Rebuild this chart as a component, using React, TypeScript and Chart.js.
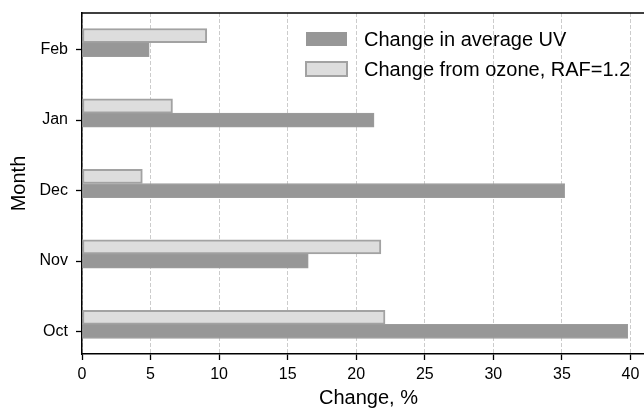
import React, { useEffect, useRef } from "react";
import { Chart, registerables } from "chart.js";

Chart.register(...registerables);

// ---- data ----
const months = ["Oct", "Nov", "Dec", "Jan", "Feb"];
const uvChange = [39.8, 16.5, 35.2, 21.3, 4.9];
const ozoneChange = [22.1, 21.8, 4.4, 6.6, 9.1];
const seriesLabels = ["Change in average UV", "Change from ozone, RAF=1.2"];
const xTickStep = 5;
const xAxisTitle = "Change, %";
const yAxisTitle = "Month";

// ---- style ----
const FONT = "'Liberation Sans', Arial, Helvetica, sans-serif";
const DARK = "#979797";
const LIGHT = "#dddddd";
const EDGE = "#a2a2a2";
const BAR_SHIFT = 0.2; // light bar sits one bar-height above the dark bar

export default function App() {
  const ref = useRef<HTMLCanvasElement>(null);

  useEffect(() => {
    const canvas = ref.current;
    if (!canvas) return;

    const legendPlugin = {
      id: "innerLegend",
      afterDatasetsDraw(chart: any) {
        const ctx = chart.ctx;
        ctx.save();
        chart.data.datasets.forEach((ds: any, i: number) => {
          const x = 306;
          const y = 32 + i * 30;
          const w = 41;
          const h = 14;
          ctx.fillStyle = ds.backgroundColor;
          ctx.fillRect(x, y, w, h);
          if (ds.borderWidth >= 2) {
            ctx.lineWidth = ds.borderWidth;
            ctx.strokeStyle = ds.borderColor;
            ctx.strokeRect(x, y, w, h);
          }
          ctx.fillStyle = "#000";
          ctx.font = `20px ${FONT}`;
          ctx.textBaseline = "middle";
          ctx.textAlign = "left";
          ctx.fillText(ds.label, 364, y + h / 2 + 1);
        });
        ctx.restore();
      },
    };

    const framePlugin = {
      id: "topSpine",
      afterDatasetsDraw(chart: any) {
        const { ctx, chartArea } = chart;
        ctx.save();
        ctx.strokeStyle = "#000";
        ctx.lineWidth = 1.5;
        ctx.beginPath();
        ctx.moveTo(chartArea.left - 0.75, chartArea.top);
        ctx.lineTo(chartArea.right, chartArea.top);
        ctx.moveTo(chartArea.right, chartArea.top);
        ctx.lineTo(chartArea.right, chartArea.bottom);
        ctx.stroke();
        ctx.restore();
      },
    };

    const xMax = Math.max(...uvChange, ...ozoneChange) * 1.05;

    const chart = new Chart(canvas, {
      type: "bar",
      data: {
        datasets: [
          {
            label: seriesLabels[0],
            data: months.map((_, i) => ({ x: uvChange[i], y: i })),
            backgroundColor: DARK,
            borderColor: "#9c9c9c",
            borderWidth: 1,
            borderSkipped: false,
            grouped: false,
            categoryPercentage: 1,
            barPercentage: 1,
          } as any,
          {
            label: seriesLabels[1],
            data: months.map((_, i) => ({ x: ozoneChange[i], y: i + BAR_SHIFT })),
            backgroundColor: LIGHT,
            borderColor: EDGE,
            borderWidth: 2,
            borderSkipped: false,
            grouped: false,
            categoryPercentage: 1,
            barPercentage: 1,
          } as any,
        ],
      },
      options: {
        indexAxis: "y",
        responsive: false,
        animation: false,
        layout: { autoPadding: false, padding: { top: 13, right: 1, left: 0, bottom: 0 } },
        plugins: {
          legend: { display: false },
          tooltip: { enabled: false },
        },
        scales: {
          x: {
            type: "linear",
            min: 0,
            max: xMax,
            offset: false,
            ticks: {
              stepSize: xTickStep,
              includeBounds: false,
              color: "#000",
              font: { family: FONT, size: 16 },
              padding: 5,
              maxRotation: 0,
            },
            grid: {
              color: "#cccccc",
              lineWidth: 1,
              tickColor: "#000",
              tickLength: 6,
              tickWidth: 1.3,
              drawOnChartArea: true,
            },
            border: { display: true, color: "#000", width: 1.5, dash: [4, 2] },
            title: {
              display: true,
              text: xAxisTitle,
              color: "#000",
              font: { family: FONT, size: 20 },
              padding: { top: 0, bottom: 0 },
            },
            afterFit(scale: any) {
              scale.height = 56;
              scale.paddingLeft = 0;
              scale.paddingRight = 0;
            },
          },
          y: {
            type: "linear",
            min: -0.32,
            max: 4.52,
            offset: false,
            grid: {
              offset: false,
              drawOnChartArea: false,
              tickColor: "#000",
              tickLength: 6,
              tickWidth: 1.3,
            },
            border: { display: true, color: "#000", width: 1.5 },
            ticks: {
              stepSize: 1,
              includeBounds: false,
              color: "#000",
              font: { family: FONT, size: 16 },
              padding: 8,
              callback: (v: any) => months[Number(v)] ?? "",
            },
            title: {
              display: true,
              text: yAxisTitle,
              color: "#000",
              font: { family: FONT, size: 20 },
              padding: { top: 7, bottom: 0 },
            },
            afterFit(scale: any) {
              scale.width = 82;
              scale.paddingTop = 0;
              scale.paddingBottom = 0;
            },
          },
        },
      } as any,
      plugins: [legendPlugin, framePlugin],
    });

    return () => chart.destroy();
  }, []);

  return (
    <div
      style={{
        position: "absolute",
        left: 0,
        top: 0,
        width: 644,
        height: 410,
        overflow: "hidden",
        background: "#fff",
      }}
    >
      <canvas ref={ref} width={656} height={410} style={{ width: 656, height: 410, display: "block" }} />
    </div>
  );
}
